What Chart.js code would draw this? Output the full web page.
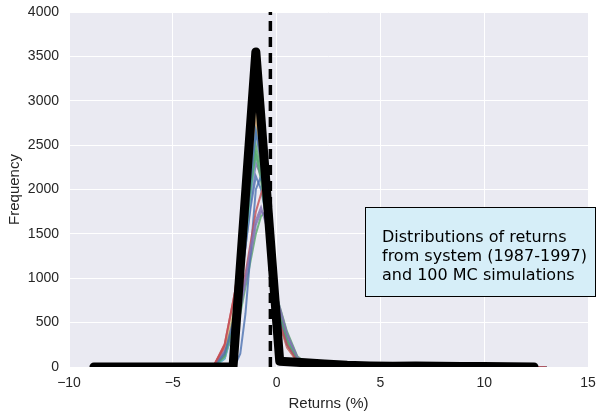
<!DOCTYPE html>
<html>
<head>
<meta charset="utf-8">
<script src="https://cdn.jsdelivr.net/npm/chart.js@4/dist/chart.umd.min.js"></script>
<style>
  html, body { margin: 0; padding: 0; background: #fff; }
  #wrap { width: 609px; height: 413px; }
</style>
</head>
<body>
<div id="wrap"><canvas id="returnsChart" width="609" height="413"></canvas></div>
<script>
// system histogram (1987-1997), bin centres and counts
var sysX = [-8.8, -7.7, -6.6, -5.5, -4.4, -3.3, -2.1, -1.0, 0.15, 1.2, 2.3, 3.4, 4.5, 5.6, 6.7, 7.8, 8.9, 10.0, 11.1, 12.4];
var sysY = [0, 0, 0, 0, 0, 0, 0, 3550, 65, 50, 35, 20, 12, 8, 12, 8, 5, 5, 3, 0];

// MC simulations, shared bin centres
var mcX = [-3.5, -3, -2.5, -2, -1.75, -1.5, -1.25, -1, -0.75, -0.5, -0.25, 0, 0.5, 1, 1.5, 2, 4, 8, 13];
var mcRuns = [
  [0, 20, 250, 850, 1300, 1900, 2500, 3050, 2400, 1700, 1100, 600, 250, 60, 20, 10, 5, 3, 0],
  [0, 10, 150, 600, 1000, 1500, 2100, 2650, 2300, 1700, 1100, 650, 250, 70, 20, 10, 5, 2, 0],
  [0, 10, 120, 550, 950, 1450, 2000, 2500, 2200, 1700, 1150, 700, 300, 80, 25, 10, 5, 3, 0],
  [0, 15, 180, 450, 700, 1000, 1350, 1650, 1800, 1600, 1200, 750, 350, 100, 25, 10, 5, 2, 0],
  [0, 10, 160, 700, 1200, 1800, 2400, 2900, 2300, 1650, 1050, 600, 250, 60, 20, 8, 4, 2, 0],
  [0, 5, 90, 500, 900, 1400, 2000, 2650, 2400, 1800, 1150, 650, 300, 90, 20, 10, 5, 2, 0],
  [0, 30, 220, 550, 750, 1050, 1400, 1750, 1950, 2100, 1300, 700, 300, 80, 25, 10, 5, 3, 0],
  [0, 0, 0, 20, 150, 600, 1300, 2000, 2150, 1800, 1200, 700, 280, 80, 25, 10, 5, 2, 0],
  [0, 10, 140, 600, 1050, 1550, 2050, 2400, 2100, 1650, 1100, 650, 260, 70, 20, 10, 5, 3, 0],
  [0, 20, 160, 420, 650, 950, 1250, 1600, 1750, 1700, 1250, 800, 380, 110, 30, 10, 5, 2, 0],
  [0, 10, 120, 650, 1100, 1650, 2200, 2700, 2250, 1650, 1100, 650, 240, 60, 20, 8, 4, 2, 0],
  [0, 10, 100, 550, 950, 1450, 1950, 2400, 2200, 1750, 1150, 700, 300, 90, 25, 10, 5, 2, 0],
  [0, 25, 260, 850, 1350, 1850, 2300, 2750, 2300, 1700, 1100, 600, 220, 60, 20, 10, 5, 2, 0],
  [0, 15, 170, 550, 950, 1350, 1800, 2150, 2000, 1700, 1200, 750, 320, 90, 25, 10, 5, 2, 0],
  [0, 15, 150, 400, 600, 900, 1200, 1500, 1700, 1750, 1300, 800, 400, 120, 30, 10, 5, 3, 0],
  [0, 10, 100, 500, 900, 1350, 1850, 2300, 2150, 1750, 1200, 700, 300, 80, 25, 10, 5, 2, 0]
];
var mcColors = ['rgba(196,78,82,0.8)', 'rgba(76,114,176,0.8)', 'rgba(85,168,104,0.8)',
                'rgba(129,114,178,0.8)', 'rgba(204,185,116,0.8)', 'rgba(100,181,205,0.8)'];

// mean return marker
var meanX = -0.3;
var yTop = 4000;
var xTicks = [-10, -5, 0, 5, 10, 15];

var boxLines = ['Distributions of returns', 'from system (1987-1997)', 'and 100 MC simulations'];

var datasets = [];
for (var r = 0; r < mcRuns.length; r++) {
  var pts = [];
  for (var i = 0; i < mcX.length; i++) pts.push({ x: mcX[i], y: mcRuns[r][i] });
  datasets.push({
    data: pts,
    borderColor: mcColors[r % mcColors.length],
    borderWidth: 2,
    pointRadius: 0,
    tension: 0,
    order: 10 + r
  });
}
var sysPts = [];
for (var j = 0; j < sysX.length; j++) sysPts.push({ x: sysX[j], y: sysY[j] });
datasets.push({
  data: sysPts,
  borderColor: '#000',
  borderWidth: 9,
  borderCapStyle: 'round',
  borderJoinStyle: 'round',
  pointRadius: 0,
  tension: 0,
  order: 1
});
datasets.push({
  data: [{ x: meanX, y: 0 }, { x: meanX, y: yTop }],
  borderColor: '#000',
  borderWidth: 3.5,
  borderDash: [10, 6],
  pointRadius: 0,
  order: 0
});

var plotBg = {
  id: 'plotBg',
  beforeDraw: function(chart) {
    var c = chart.ctx, a = chart.chartArea;
    c.save();
    c.fillStyle = '#EAEAF2';
    c.fillRect(a.left, a.top, a.right - a.left, a.bottom - a.top);
    c.restore();
  }
};

var textBox = {
  id: 'textBox',
  afterDraw: function(chart) {
    var c = chart.ctx;
    c.save();
    c.fillStyle = '#D6EEF8';
    c.fillRect(365.5, 207.5, 230, 89);
    c.strokeStyle = '#000';
    c.lineWidth = 1;
    c.strokeRect(365.5, 207.5, 230, 89);
    c.fillStyle = '#000';
    c.font = '16px "DejaVu Sans", sans-serif';
    c.textBaseline = 'middle';
    for (var k = 0; k < boxLines.length; k++) c.fillText(boxLines[k], 382, 238 + k * 19);
    c.restore();
  }
};

var tickFont = { family: '"Liberation Sans", Arial, sans-serif', size: 14 };
var titleFont = { family: '"Liberation Sans", Arial, sans-serif', size: 15 };

new Chart(document.getElementById('returnsChart').getContext('2d'), {
  type: 'line',
  data: { datasets: datasets },
  plugins: [plotBg, textBox],
  options: {
    responsive: false,
    animation: false,
    layout: { padding: { top: 12, right: 21, left: 6, bottom: 0 } },
    plugins: { legend: { display: false }, tooltip: { enabled: false } },
    scales: {
      x: {
        type: 'linear',
        min: -10,
        max: 15,
        afterBuildTicks: function(s) { s.ticks = xTicks.map(function(v) { return { value: v }; }); },
        afterFit: function(s) { s.height = 46; s.paddingLeft = 0; s.paddingRight = 0; },
        grid: { color: '#fff', lineWidth: 1, drawTicks: false },
        border: { display: false },
        ticks: {
          font: tickFont, color: '#262626', padding: 8,
          callback: function(v) { return v < 0 ? '\u2212' + Math.abs(v) : String(v); }
        },
        title: { display: true, text: 'Returns (%)', font: titleFont, color: '#262626', padding: { top: 2, bottom: 0 } }
      },
      y: {
        min: 0,
        max: yTop,
        afterFit: function(s) { s.width = 63; s.paddingTop = 0; s.paddingBottom = 0; },
        grid: { color: '#fff', lineWidth: 1, drawTicks: false },
        border: { display: false },
        ticks: {
          stepSize: 500, font: tickFont, color: '#262626', padding: 10,
          callback: function(v) { return String(v); }
        },
        title: { display: true, text: 'Frequency', font: titleFont, color: '#262626', padding: { top: 0, bottom: 4 } }
      }
    }
  }
});
</script>
</body>
</html>
